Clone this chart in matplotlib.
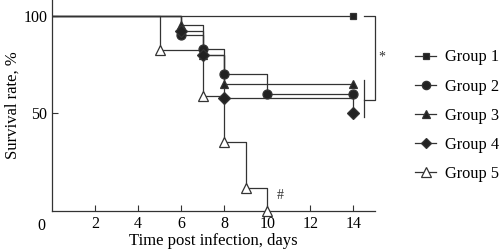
import matplotlib
matplotlib.use('Agg')
import matplotlib.pyplot as plt
from matplotlib.lines import Line2D

plt.rcParams['font.family'] = 'Liberation Serif'
plt.rcParams['font.size'] = 11

# survival curves (day, percent)
g1_t = [0, 14]
g1_s = [100, 100]
g2_t = [0, 6, 7, 8, 10, 14]
g2_s = [100, 90, 83, 70, 60, 60]
g3_t = [0, 6, 7, 8, 14]
g3_s = [100, 95, 80, 65, 65]
g4_t = [0, 6, 7, 8, 14]
g4_s = [100, 92, 80, 58, 50]
g5_t = [0, 5, 7, 8, 9, 10]
g5_s = [100, 82.4, 58.8, 35.3, 11.8, 0]

labels = ['Group 1', 'Group 2', 'Group 3', 'Group 4', 'Group 5']
markers = ['s', 'o', '^', 'D', '^']
fills = ['#222222', '#222222', '#222222', '#222222', 'white']
x_ticks = [2, 4, 6, 8, 10, 12, 14]
y_ticks = [50, 100]

col = '#333333'
fig = plt.figure(figsize=(5.03, 2.52), dpi=100)
ax = fig.add_axes([0.1034, 0.1627, 0.642, 0.8373])

groups = [(g1_t, g1_s), (g2_t, g2_s), (g3_t, g3_s), (g4_t, g4_s), (g5_t, g5_s)]
sizes = [5, 6.5, 6, 6, 7]
for i, (t, s) in enumerate(groups):
    ax.step(t, s, where='post', color=col, lw=0.9, zorder=2)
    ax.plot(t[1:], s[1:], ls='none', marker=markers[i], ms=sizes[i],
            mfc=fills[i], mec=col, mew=0.9, zorder=3, clip_on=False)

# significance bracket
ax.plot([14.5, 15.0, 15.0, 14.5], [100, 100, 57, 57], color=col, lw=0.9, clip_on=False)
ax.plot([14.5, 14.5], [67, 48], color=col, lw=0.9, clip_on=False)
ax.text(15.3, 79, '*', ha='center', va='center', fontsize=10, color=col, clip_on=False)
ax.text(10.6, 8, '#', ha='center', va='center', fontsize=10, color=col)

ax.set_xlim(0, 15)
ax.set_ylim(0, 108)
ax.set_xticks(x_ticks)
ax.set_yticks(y_ticks)
ax.tick_params(direction='in', length=4, width=0.8, color=col, labelsize=11.5)
ax.text(-0.5, -3.5, '0', ha='center', va='top', fontsize=11.5)
for sp in ['top', 'right']:
    ax.spines[sp].set_visible(False)
for sp in ['left', 'bottom']:
    ax.spines[sp].set_color(col)
    ax.spines[sp].set_linewidth(0.9)

ax.set_xlabel('Time post infection, days', fontsize=12, labelpad=1)
ax.set_ylabel('Survival rate, %', fontsize=12, labelpad=2)

handles = []
for i in range(5):
    handles.append(Line2D([], [], color=col, lw=0.9, marker=markers[i], ms=sizes[i] - 0.5,
                          mfc=fills[i], mec=col, mew=0.9))
fig.legend(handles, labels, loc='upper left', bbox_to_anchor=(0.812, 0.83),
           frameon=False, handlelength=1.3, fontsize=11.8, labelspacing=0.8,
           handletextpad=0.55, borderaxespad=0)

fig.savefig('out.png', dpi=100)
